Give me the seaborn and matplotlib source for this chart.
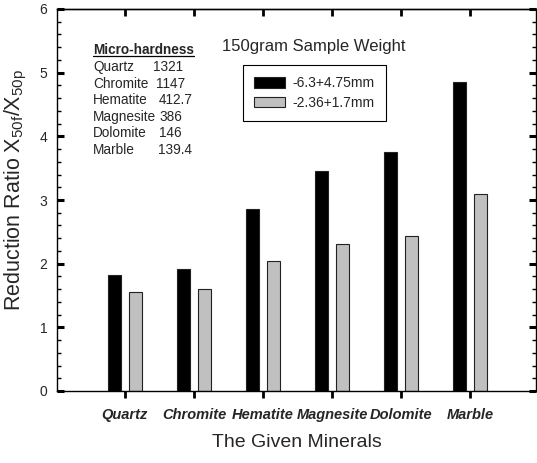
import matplotlib
matplotlib.use("Agg")
import matplotlib.pyplot as plt
from matplotlib.lines import Line2D
from matplotlib.ticker import MultipleLocator
import pandas as pd
import seaborn as sns

# Data
minerals = ["Quartz", "Chromite", "Hematite", "Magnesite", "Dolomite", "Marble"]
coarse_ratio = [1.82, 1.92, 2.86, 3.46, 3.75, 4.86]
fine_ratio = [1.55, 1.60, 2.04, 2.31, 2.43, 3.09]
size_fractions = ["-6.3+4.75mm", "-2.36+1.7mm"]
hardness_values = ["1321", "1147", "412.7", "386", "146", "139.4"]

df = pd.DataFrame({
    "Mineral": minerals + minerals,
    "Ratio": coarse_ratio + fine_ratio,
    "Size": [size_fractions[0]] * len(minerals) + [size_fractions[1]] * len(minerals),
})

sns.set_theme(style="ticks")
plt.rcParams["font.family"] = ["Liberation Sans", "DejaVu Sans"]
plt.rcParams["axes.linewidth"] = 1.0

W, H = 537, 463
fig = plt.figure(figsize=(W / 100, H / 100), dpi=100)
ax = fig.add_axes([57 / W, 1 - 391 / H, (536 - 57) / W, (391 - 9) / H])

sns.barplot(
    data=df, x="Mineral", y="Ratio", hue="Size",
    palette=["black", "#c0c0c0"], width=0.608, gap=0.38,
    edgecolor="#222222", linewidth=0.8, ax=ax,
)

ax.set_xlim(-0.985, 5.957)
ax.set_ylim(0, 6)
ax.yaxis.set_major_locator(MultipleLocator(1))
ax.yaxis.set_minor_locator(MultipleLocator(0.2))

for s in ax.spines.values():
    s.set_visible(True)
    s.set_color("black")
    s.set_linewidth(1.0)

ax.tick_params(axis="x", which="major", direction="out", length=5, width=2,
               color="black", pad=7, top=False)
ax.tick_params(axis="y", which="major", direction="in", length=5, width=2.2,
               color="black", left=True, right=True, labelright=False, pad=7)
ax.tick_params(axis="y", which="minor", direction="in", length=3, width=1,
               color="black", left=True, right=True)

top = ax.secondary_xaxis("top")
top.set_xticks(range(len(minerals)))
top.tick_params(direction="in", length=5, width=2, color="black", labeltop=False)

for lbl in ax.get_xticklabels():
    lbl.set_fontsize(10.5)
    lbl.set_fontweight("bold")
    lbl.set_fontstyle("italic")
for lbl in ax.get_yticklabels():
    lbl.set_fontsize(10)

ax.set_xlabel("The Given Minerals", fontsize=14, labelpad=9)
ax.set_ylabel(r"Reduction Ratio X$_\mathregular{50f}$/X$_\mathregular{50p}$",
              fontsize=15.5)
ax.yaxis.set_label_coords(-0.058, 0.526)

handles, labels = ax.get_legend_handles_labels()
leg = ax.legend(
    handles, labels, loc="upper left",
    bbox_to_anchor=(243 / W, 1 - 65 / H), bbox_transform=fig.transFigure,
    frameon=True, fancybox=False, shadow=False, framealpha=1,
    edgecolor="black", fontsize=10, handlelength=2.2, handleheight=0.8,
    handletextpad=0.55, labelspacing=0.4, borderpad=0.8, borderaxespad=0,
)
leg.get_frame().set_linewidth(0.8)

fig.text(222 / W, 1 - 47 / H, "150gram Sample Weight", fontsize=12,
         ha="left", va="center")

# Micro-hardness table
head = fig.text(93 / W, 1 - 50 / H, "Micro-hardness", fontsize=9.8,
                fontweight="bold", ha="left", va="center")
value_x = [153, 156, 159, 159, 159, 158]
for i, (name, val) in enumerate(zip(minerals, hardness_values)):
    y = 1 - (67 + 16.6 * i) / H
    fig.text(93 / W, y, name, fontsize=9.8, ha="left", va="center")
    fig.text(value_x[i] / W, y, val, fontsize=9.8, ha="left", va="center")

fig.canvas.draw()
bb = head.get_window_extent().transformed(fig.transFigure.inverted())
fig.add_artist(Line2D([bb.x0, bb.x1], [bb.y0 + 0.002, bb.y0 + 0.002],
                      transform=fig.transFigure, color="black", linewidth=0.9))

fig.savefig("out.png", dpi=100)
